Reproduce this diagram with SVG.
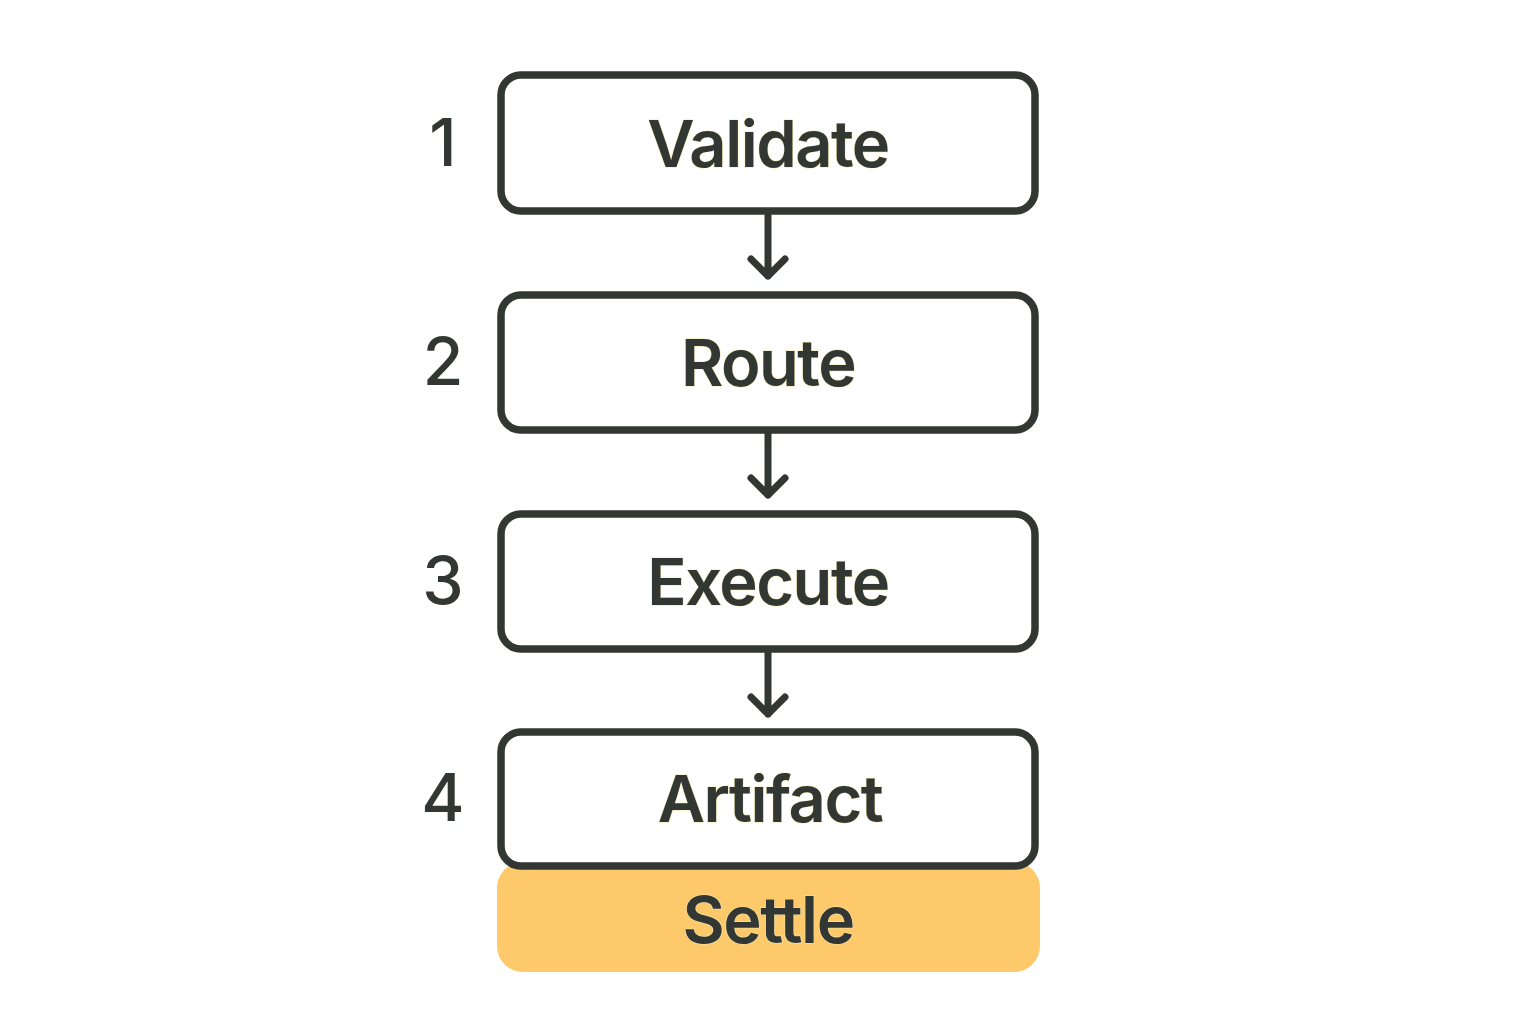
<svg xmlns="http://www.w3.org/2000/svg" width="1536" height="1024" viewBox="0 0 1536 1024">
<defs>
<style>
.box{fill:#ffffff;stroke:#333733;stroke-width:7.5}
.lbl{font-family:Inter,"Noto Sans",sans-serif;font-weight:600;font-size:65px;letter-spacing:-1.5px;fill:#333733;text-anchor:middle;stroke:#f3eab0;stroke-width:1;paint-order:stroke}
.num{font-family:Inter,"Noto Sans",sans-serif;font-weight:500;font-size:66px;fill:#333733;text-anchor:middle}
.conn{stroke:#333733;stroke-width:7;fill:none;stroke-linecap:round;stroke-linejoin:round}
</style>
</defs>
<rect width="1536" height="1024" fill="#ffffff"/>
<g id="settle">
<rect x="497" y="862" width="543" height="110" rx="26" fill="#fdc96a"/>
<text class="lbl" x="768" y="943">Settle</text>
</g>
<g id="validate">
<rect class="box" x="501" y="75" width="534" height="136" rx="20"/>
<text class="lbl" x="768" y="167">Validate</text>
<text class="num" x="443" y="166">1</text>
</g>
<g id="route">
<rect class="box" x="501" y="295" width="534" height="135" rx="20"/>
<text class="lbl" x="768" y="386">Route</text>
<text class="num" x="443" y="385">2</text>
</g>
<g id="execute">
<rect class="box" x="501" y="514" width="534" height="135" rx="20"/>
<text class="lbl" x="768" y="605">Execute</text>
<text class="num" x="443" y="604">3</text>
</g>
<g id="artifact">
<rect class="box" x="501" y="732" width="534" height="134" rx="20"/>
<text class="lbl" x="770" y="822">Artifact</text>
<text class="num" x="443" y="821">4</text>
</g>
<g id="connectors">
<path class="conn" d="M768 214 V276 M751 259 L768 276 L785 259"/>
<path class="conn" d="M768 433 V495 M751 478 L768 495 L785 478"/>
<path class="conn" d="M768 652 V714 M751 697 L768 714 L785 697"/>
</g>
</svg>
